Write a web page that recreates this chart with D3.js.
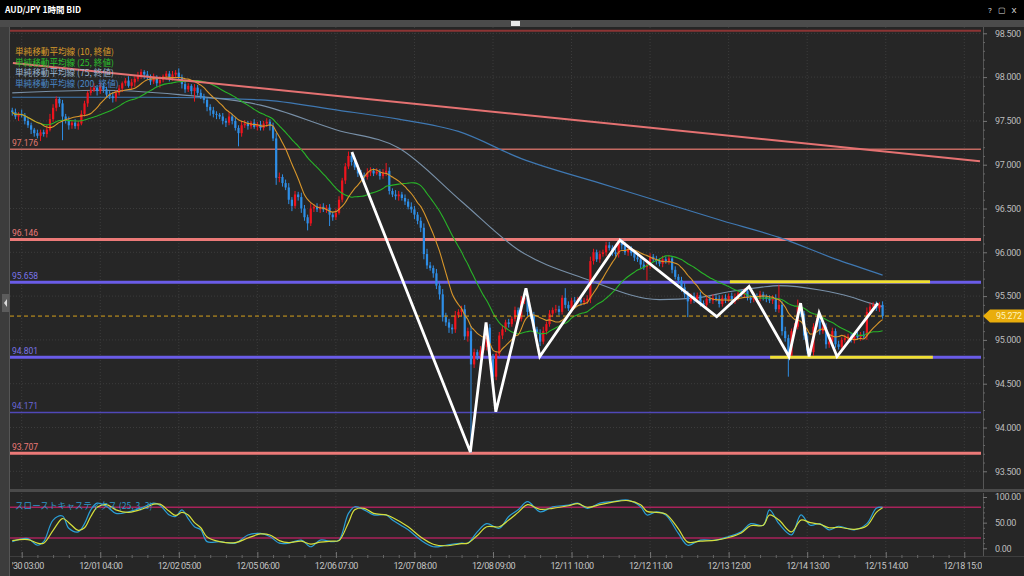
<!DOCTYPE html>
<html><head><meta charset="utf-8">
<script src="https://cdn.jsdelivr.net/npm/d3@7"></script>
<style>
body{margin:0;background:#262626;overflow:hidden}
svg{display:block}
</style></head><body>
<svg id="c" width="1024" height="576"></svg>
<script>
// ---------------- DATA ----------------
const firstIndex = -3;           // candle index of first close (0 = 11/30 03:00)
const firstOpen = 97.62;
const closes = [
97.60,97.55,97.58,97.56,97.50,97.45,97.40,97.36,97.33,97.37,
97.35,97.40,97.52,97.65,97.75,97.70,97.55,97.50,97.45,97.48,
97.44,97.47,97.58,97.70,97.82,97.85,97.88,97.84,97.90,97.86,
97.80,97.78,97.76,97.82,97.87,97.93,97.96,97.90,97.94,97.98,
98.02,98.06,98.03,98.00,97.95,97.99,97.93,97.97,98.01,98.04,
97.99,98.03,98.05,98.00,97.92,97.86,97.90,97.84,97.88,97.82,
97.78,97.74,97.66,97.62,97.58,97.57,97.55,97.50,97.48,97.55,
97.50,97.42,97.36,97.45,97.47,97.44,97.48,97.43,97.46,97.42,
97.47,97.49,97.44,97.30,96.85,96.86,96.79,96.74,96.60,96.53,
96.66,96.63,96.50,96.40,96.33,96.50,96.52,96.49,96.52,96.49,
96.51,96.43,96.40,96.45,96.60,96.82,96.98,97.10,97.03,96.97,
96.90,96.88,96.86,96.91,96.93,96.90,96.92,96.87,96.91,96.93,
96.70,96.66,96.64,96.66,96.62,96.58,96.52,96.49,96.43,96.36,
96.28,95.98,95.85,95.82,95.76,95.62,95.52,95.26,95.20,95.14,
95.12,95.28,95.32,95.35,95.04,95.10,94.72,94.86,94.82,94.88,
94.92,95.14,94.78,94.58,94.84,95.05,95.12,95.20,95.18,95.24,
95.34,95.24,95.45,95.48,95.32,95.28,95.12,95.08,94.98,95.10,
95.18,95.30,95.34,95.35,95.32,95.48,95.40,95.36,95.45,95.44,
95.46,95.43,95.45,95.47,95.90,96.00,95.92,95.98,96.00,96.08,
96.05,96.00,95.98,96.12,96.08,96.00,96.03,95.99,95.94,95.92,
95.86,95.83,95.85,95.95,95.92,95.90,95.87,95.92,95.90,95.93,
95.80,95.72,95.68,95.60,95.52,95.44,95.50,95.46,95.51,95.42,
95.40,95.47,95.45,95.48,95.47,95.41,95.48,95.46,95.50,95.44,
95.49,95.53,95.52,95.56,95.48,95.46,95.50,95.47,95.52,95.49,
95.47,95.45,95.48,95.35,95.40,95.10,95.02,94.82,95.10,95.15,
95.38,95.30,95.05,94.88,94.86,95.15,95.22,95.10,95.15,94.95,
94.98,95.10,94.95,94.92,95.00,95.02,95.04,95.00,95.05,95.03,
95.06,95.04,95.32,95.38,95.40,95.36,95.40,95.272];
// wick lengths beyond the body, in 0.01 yen
const upWick = [
3,4,2,5,3,4,3,2,4,3, 3,5,6,4,3,2,4,3,5,3, 4,3,4,3,2,4,5,3,4,3, 3,4,5,3,4,2,3,5,4,3,
4,3,2,4,3,5,3,4,2,3, 3,4,3,5,3,4,3,2,4,3, 4,3,2,3,4,3,2,4,3,5, 3,4,3,5,4,3,2,4,3,4,
3,4,3,4,6,5,3,4,5,3, 4,3,5,4,3,6,3,4,3,4, 3,4,3,5,4,3,4,5,3,4, 3,4,3,5,4,3,4,3,4,9,
4,3,5,4,3,4,3,5,4,3, 4,5,6,4,3,5,4,6,5,4, 4,5,3,4,5,4,6,4,3,5, 4,5,4,6,3,4,5,3,4,3,
4,3,5,4,3,5,4,3,4,5, 3,4,3,5,4,3,11,4,3,4, 3,4,3,4,5,4,3,4,3,4, 4,3,4,3,3,4,3,4,3,4,
3,4,3,4,3,4,3,4,3,4, 3,4,3,4,5,4,3,4,3,4, 3,4,3,4,3,4,3,4,3,4, 4,3,4,3,4,3,4,3,4,3,
3,4,3,4,23,4,5,4,3,4, 8,4,3,4,3,4,3,4,3,4, 3,4,3,4,3,4,3,4,3,4, 3,4,5,4,3,4,3,4];
const dnWick = [
4,3,5,2,4,3,5,4,3,6, 3,4,2,3,4,4,27,3,5,4, 3,4,2,3,4,3,2,5,3,4, 4,3,5,4,3,4,3,2,4,5,
3,4,5,3,4,3,4,5,3,4, 4,3,4,3,5,4,3,4,12,3, 3,4,5,6,4,5,3,4,5,3, 4,3,15,4,3,4,3,2,4,3,
3,4,5,3,8,5,4,3,5,6, 3,4,5,4,8,3,4,3,4,3, 4,13,4,3,2,3,4,3,4,3, 4,3,4,3,4,3,2,4,3,4,
4,3,4,5,3,4,3,4,5,4, 5,6,4,3,5,4,6,5,4,6, 5,4,3,5,4,6,101,4,5,3, 3,4,5,13,4,3,4,3,4,3,
3,4,3,4,5,4,3,4,5,3, 4,3,4,3,4,3,4,3,4,3, 3,4,3,4,5,4,3,4,3,4, 3,4,3,4,5,3,4,3,4,3,
4,3,15,4,3,4,3,4,3,4, 4,3,4,5,4,18,3,4,3,4, 3,4,3,4,3,4,3,4,3,4, 3,4,3,4,3,4,3,4,3,4,
4,3,4,3,4,5,4,24,3,4, 3,4,5,4,3,4,3,4,3,5, 4,3,4,3,4,3,4,3,4,3, 4,3,4,3,4,3,4,3];

const xTickIdx = [0,25,50,75,100,125,150,175,200,225,250,275,300];
const xTickLabels = ["11/30 03:00","12/01 04:00","12/02 05:00","12/05 06:00","12/06 07:00","12/07 08:00",
  "12/08 09:00","12/11 10:00","12/12 11:00","12/13 12:00","12/14 13:00","12/15 14:00","12/18 15:00"];
const priceTicks = [93.5,94.0,94.5,95.0,95.5,96.0,96.5,97.0,97.5,98.0,98.5];
const stochTicks = [0,50,100];

const levelPrices = [97.176, 96.146, 95.658, 94.801, 94.171, 93.707];
const levelKinds  = ["redThin","red","blue","blue","blueThin","red"];
const topLinePrice = 98.53;
const lastPrice = 95.272;

const ma75Idx = [-3,25,50,76,100,120,140,158,180,203,215,225,235,241,254,264,270,274];
const ma75Val = [97.82,97.85,97.80,97.68,97.40,97.19,96.58,96.03,95.69,95.46,95.48,95.55,95.60,95.62,95.57,95.49,95.42,95.38];
const ma200Idx = [-3,40,76,101,120,139,159,184,223,241,260,274];
const ma200Val = [97.77,97.77,97.74,97.62,97.52,97.38,97.07,96.79,96.36,96.17,95.91,95.74];

const stochIdx = [-3,2,5,7,10,13,15,18,20,22,24,27,30,34,39,42,44,47,49,51,53,55,57,59,63,68,72,76,79,82,85,89,92,95,99,101,104,106,109,112,116,118,123,127,131,135,140,142,145,148,152,155,158,161,165,169,174,177,180,184,188,193,197,199,202,205,209,212,216,221,225,229,232,236,238,241,245,248,251,254,257,260,265,269,272,274];
const stochK   = [13,19,6,13,55,63,39,32,48,75,88,82,68,71,81,88,84,65,62,75,58,42,36,13,13,10,26,29,23,10,10,16,3,16,13,16,68,81,75,65,65,55,36,16,3,6,10,10,32,48,39,62,75,91,71,81,84,88,78,88,91,94,81,65,71,65,29,6,16,16,23,32,48,45,75,48,26,65,45,48,36,43,36,48,78,80];
const stochD   = [15,17,10,10,35,58,50,35,40,62,80,85,75,70,78,86,86,72,64,70,65,50,40,22,13,11,20,28,26,15,11,14,8,12,14,15,50,75,78,68,65,60,42,22,8,5,9,10,25,42,42,55,70,85,76,78,83,87,80,85,90,93,85,72,70,67,38,12,14,16,21,30,44,45,65,55,32,55,50,47,40,41,37,44,70,79];
const stochLevels = [80,20];

const zigIdx   = [105.1,142.8,147.8,150.9,160.5,164.9,190.4,221.2,231.5,244.2,247.9,250.6,253.8,259.5,272.5];
const zigPrice = [97.145,93.72,95.20,94.18,95.59,94.81,96.14,95.265,95.61,94.81,95.42,94.81,95.31,94.81,95.42];

const yellowFrom  = [225.4,238.2];
const yellowTo    = [289.1,290.0];
const yellowPrice = [95.665,94.801];

const trendIdx   = [-2.8,305];
const trendPrice = [98.16,97.04];

const legendLabels = ["単純移動平均線 (10, 終値)","単純移動平均線 (25, 終値)","単純移動平均線 (75, 終値)","単純移動平均線 (200, 終値)"];
const legendColors = ["#d89a2a","#2cc02c","#9cb6d2","#4a86c6"];

// ---------------- BUILD ----------------
const candles = closes.map((c,k)=>{
  const o = k===0 ? firstOpen : closes[k-1];
  return {i:firstIndex+k, o, c,
    h: Math.max(o,c)+upWick[k]/100, l: Math.min(o,c)-dnWick[k]/100};
});
function sma(n){
  return closes.map((c,k)=>{const s=closes.slice(Math.max(0,k-n+1),k+1);return {i:firstIndex+k,v:d3.mean(s)};});
}

const svg = d3.select("#c");
const FONT = "Roboto, 'Noto Sans', sans-serif";
const JP = "'Noto Sans CJK JP', 'Noto Sans', sans-serif";

const x  = d3.scaleLinear().domain([-3.72,305]).range([10,980]);
const y  = d3.scaleLinear().domain([98.5,93.5]).range([33.3,471.3]);
const ys = d3.scaleLinear().domain([0,100]).range([548.3,497]);

// background & frame
svg.append("rect").attr("width",1024).attr("height",576).attr("fill","#262626");
svg.append("rect").attr("width",1024).attr("height",20).attr("fill","#000");
svg.append("text").attr("x",5).attr("y",13).attr("fill","#fff").attr("font-family",JP)
  .attr("font-size",8.5).attr("font-weight","bold").text("AUD/JPY 1時間 BID");
["?","▢","X"].forEach((t,k)=>svg.append("text").attr("x",990+k*12).attr("y",13).attr("fill","#ddd")
  .attr("font-family",FONT).attr("font-size",8).attr("text-anchor","middle").text(t));
svg.append("rect").attr("y",20).attr("width",1024).attr("height",7).attr("fill","#4b4b4b");
svg.append("rect").attr("x",511).attr("y",21).attr("width",9).attr("height",5).attr("fill","#e8e8e8");
svg.append("rect").attr("x",0).attr("y",27).attr("width",9).attr("height",549).attr("fill","#3c3c3c");
svg.append("rect").attr("x",2).attr("y",294).attr("width",7).attr("height",18).attr("fill","#5c5c5c");
svg.append("path").attr("d","M7,299 L4,303 L7,307 Z").attr("fill","#ddd");
svg.append("line").attr("x1",9.5).attr("x2",9.5).attr("y1",27).attr("y2",576).attr("stroke","#555");

// clip paths
const defs = svg.append("defs");
defs.append("clipPath").attr("id","main").append("rect").attr("x",10).attr("y",27).attr("width",971).attr("height",462);
defs.append("clipPath").attr("id","sto").append("rect").attr("x",10).attr("y",493).attr("width",971).attr("height",63);
defs.append("clipPath").attr("id","xax").append("rect").attr("x",12).attr("y",550).attr("width",970).attr("height",26);

// separators
svg.append("rect").attr("x",10).attr("y",489).attr("width",1014).attr("height",3).attr("fill","#4a4a4a");
svg.append("line").attr("x1",10).attr("x2",1024).attr("y1",556.5).attr("y2",556.5).attr("stroke","#3e3e3e");

const gm = svg.append("g").attr("clip-path","url(#main)");
const gs = svg.append("g").attr("clip-path","url(#sto)");

// grid
gm.selectAll(".vg").data(xTickIdx).join("line").attr("x1",d=>x(d)).attr("x2",d=>x(d))
  .attr("y1",27).attr("y2",489).attr("stroke","#3c3c3c").attr("stroke-dasharray","1,2");
gm.selectAll(".hg").data(priceTicks).join("line").attr("x1",10).attr("x2",981).attr("y1",d=>y(d)).attr("y2",d=>y(d))
  .attr("stroke","#3c3c3c").attr("stroke-dasharray","1,2");
gs.selectAll(".vg").data(xTickIdx).join("line").attr("x1",d=>x(d)).attr("x2",d=>x(d))
  .attr("y1",493).attr("y2",556).attr("stroke","#3c3c3c").attr("stroke-dasharray","1,2");

// top dark red line
gm.append("line").attr("x1",10).attr("x2",981).attr("y1",y(topLinePrice)).attr("y2",y(topLinePrice))
  .attr("stroke","#8c3434").attr("stroke-width",2);

// level lines
const kindStyle = {
  redThin:{c:"#c46a62",w:1.6,t:"#e07a70"}, red:{c:"#ec7a78",w:3,t:"#ec7a78"},
  blue:{c:"#6a5ce8",w:3,t:"#7a74e8"}, blueThin:{c:"#5048b8",w:1.6,t:"#6a66d8"}};
levelPrices.forEach((p,k)=>{
  const s = kindStyle[levelKinds[k]];
  gm.append("line").attr("x1",10).attr("x2",981).attr("y1",y(p)).attr("y2",y(p))
    .attr("stroke",s.c).attr("stroke-width",s.w);
  gm.append("text").attr("x",12).attr("y",y(p)-3.5).attr("fill",s.t).attr("font-family",FONT)
    .attr("font-size",8.5).text(p.toFixed(3));
});

// MA lines
const lineGen = (curve)=>d3.line().x(d=>x(d.i)).y(d=>y(d.v)).curve(curve);
const ma200 = ma200Idx.map((i,k)=>({i,v:ma200Val[k]}));
const ma75  = ma75Idx.map((i,k)=>({i,v:ma75Val[k]}));
gm.append("path").attr("d",lineGen(d3.curveMonotoneX)(ma200)).attr("fill","none").attr("stroke","#3f78b2").attr("stroke-width",1.2);
gm.append("path").attr("d",lineGen(d3.curveMonotoneX)(ma75)).attr("fill","none").attr("stroke","#7890a8").attr("stroke-width",1.1);

// candles
const UP="#f0141e", DN="#2e8ee6";
gm.selectAll(".wk").data(candles).join("line").attr("x1",d=>x(d.i)).attr("x2",d=>x(d.i))
  .attr("y1",d=>y(d.h)).attr("y2",d=>y(d.l)).attr("stroke",d=>d.c>=d.o?UP:DN).attr("stroke-width",1);
gm.selectAll(".bd").data(candles).join("rect").attr("x",d=>x(d.i)-1.1).attr("width",2.2)
  .attr("y",d=>y(Math.max(d.o,d.c))).attr("height",d=>Math.max(1,y(Math.min(d.o,d.c))-y(Math.max(d.o,d.c))))
  .attr("fill",d=>d.c>=d.o?UP:DN);

gm.append("path").attr("d",lineGen(d3.curveMonotoneX)(sma(25))).attr("fill","none").attr("stroke","#28b428").attr("stroke-width",1.1);
gm.append("path").attr("d",lineGen(d3.curveMonotoneX)(sma(10))).attr("fill","none").attr("stroke","#d8962a").attr("stroke-width",1.1);

// trendline
gm.append("line").attr("x1",x(trendIdx[0])).attr("y1",y(trendPrice[0])).attr("x2",x(trendIdx[1])).attr("y2",y(trendPrice[1]))
  .attr("stroke","#e57272").attr("stroke-width",2);

// current price dashed line
gm.append("line").attr("x1",10).attr("x2",981).attr("y1",y(lastPrice)).attr("y2",y(lastPrice))
  .attr("stroke","#d6a21c").attr("stroke-dasharray","4,3").attr("stroke-width",1);

// yellow range lines
yellowPrice.forEach((p,k)=>gm.append("line").attr("x1",x(yellowFrom[k])).attr("x2",x(yellowTo[k]))
  .attr("y1",y(p)).attr("y2",y(p)).attr("stroke","#f0e030").attr("stroke-width",3));

// zigzag annotation
const zig = zigIdx.map((i,k)=>({i,v:zigPrice[k]}));
gm.append("path").attr("d",lineGen(d3.curveLinear)(zig)).attr("fill","none").attr("stroke","#fff")
  .attr("stroke-width",2.8).attr("stroke-linejoin","miter");

// legend
legendLabels.forEach((t,k)=>svg.append("text").attr("x",15).attr("y",55+k*10.6).attr("fill",legendColors[k])
  .attr("font-family",JP).attr("font-size",8.6).text(t));

// right price axis
const axR = d3.axisRight(y).tickValues(priceTicks).tickFormat(d3.format(".3f")).tickSize(4).tickPadding(8);
const gA = svg.append("g").attr("transform","translate(983,0)").call(axR);
gA.select(".domain").attr("stroke","#555").attr("d","M0.5,27V489");
gA.selectAll("line").attr("stroke","#777");
gA.selectAll("text").attr("fill","#bdbdbd").attr("font-family",FONT).attr("font-size",9).attr("letter-spacing",-0.3);
const minorP = d3.range(935,986).map(v=>v/10).filter(v=>!priceTicks.includes(v));
svg.append("g").attr("transform","translate(983,0)").call(d3.axisRight(y).tickValues(minorP).tickSize(2).tickFormat(""))
  .call(g=>{g.select(".domain").remove();g.selectAll("line").attr("stroke","#666");});

// last price tag
const ly = y(lastPrice);
svg.append("path").attr("d",`M983,${ly} L990,${ly-6.5} L1024,${ly-6.5} L1024,${ly+6.5} L990,${ly+6.5} Z`).attr("fill","#e9ad0c");
svg.append("text").attr("x",996).attr("y",ly+3.3).attr("fill","#fff2b8").attr("font-family",FONT).attr("font-size",9)
  .attr("letter-spacing",-0.3).text(lastPrice.toFixed(3));

// stochastic panel
stochLevels.forEach(v=>gs.append("line").attr("x1",10).attr("x2",981).attr("y1",ys(v)).attr("y2",ys(v))
  .attr("stroke","#a8225a").attr("stroke-width",1.4));
const sl = d3.line().x(d=>x(d.i)).y(d=>ys(d.v)).curve(d3.curveCatmullRom.alpha(0.5));
gs.append("path").attr("d",sl(stochIdx.map((i,k)=>({i,v:stochK[k]})))).attr("fill","none").attr("stroke","#2a9ed6").attr("stroke-width",1.2);
gs.append("path").attr("d",sl(stochIdx.map((i,k)=>({i,v:stochD[k]})))).attr("fill","none").attr("stroke","#d6e03c").attr("stroke-width",1.2);
svg.append("text").attr("x",15).attr("y",509).attr("fill","#2f96c8").attr("font-family",JP).attr("font-size",8.6)
  .text("スローストキャスティクス (25, 3, 3)");

const axS = d3.axisRight(ys).tickValues(stochTicks).tickFormat(d3.format(".2f")).tickSize(4).tickPadding(8);
const gS = svg.append("g").attr("transform","translate(983,0)").call(axS);
gS.select(".domain").attr("stroke","#555").attr("d","M0.5,493V556");
gS.selectAll("line").attr("stroke","#777");
gS.selectAll("text").attr("fill","#bdbdbd").attr("font-family",FONT).attr("font-size",9).attr("letter-spacing",-0.3);
svg.append("g").attr("transform","translate(983,0)").call(d3.axisRight(ys).tickValues(d3.range(10,100,10).filter(v=>v!==50)).tickSize(2).tickFormat(""))
  .call(g=>{g.select(".domain").remove();g.selectAll("line").attr("stroke","#666");});

// bottom time axis
const gx = svg.append("g").attr("clip-path","url(#xax)");
const axB = d3.axisBottom(x).tickValues(xTickIdx).tickFormat((d,k)=>xTickLabels[k]).tickSize(-6).tickPadding(5);
const gB = gx.append("g").attr("transform","translate(0,558)").call(axB);
gB.select(".domain").remove();
gB.selectAll("line").attr("stroke","#777");
gB.selectAll("text").attr("fill","#c4c4c4").attr("font-family",FONT).attr("font-size",9).attr("letter-spacing",-0.5);
const minorX = d3.range(-5,305,5).filter(v=>v%25!==0);
gx.append("g").attr("transform","translate(0,558)").call(d3.axisBottom(x).tickValues(minorX).tickSize(-3).tickFormat(""))
  .call(g=>{g.select(".domain").remove();g.selectAll("line").attr("stroke","#666");});
</script>
</body></html>
